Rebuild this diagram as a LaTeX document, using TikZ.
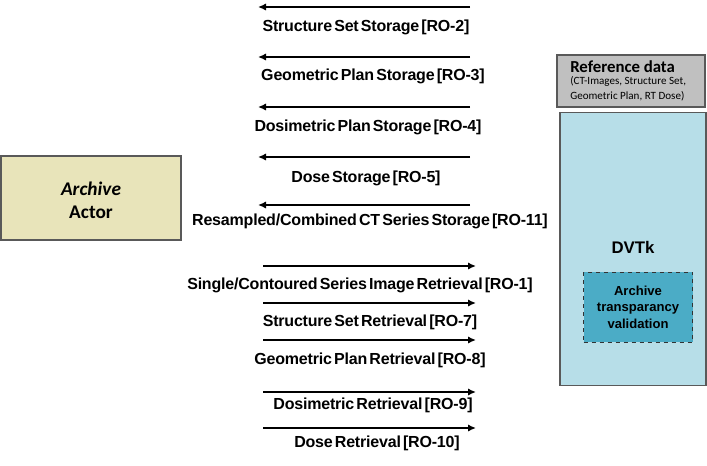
\documentclass[tikz,border=0pt]{standalone}
\usepackage{fontspec}
\setmainfont{Liberation Sans}
\newfontfamily\calib{Carlito}
\newfontfamily\lblfont[LetterSpace=-1.2,WordSpace=0.5]{Liberation Sans}
\usetikzlibrary{arrows.meta}
\definecolor{actorfill}{HTML}{E8E4BA}
\definecolor{reffill}{HTML}{C0C0C0}
\definecolor{dvtkfill}{HTML}{B7DEE8}
\definecolor{innerfill}{HTML}{4BACC6}
\definecolor{edgegray}{HTML}{595959}
\tikzset{
  box/.style={draw=edgegray, line width=0.8pt, inner sep=0pt},
  msg/.style={-{Latex[length=6pt,width=5.5pt]}, line width=2pt, black},
  lbl/.style={font=\lblfont\bfseries\fontsize{12}{14}\selectfont, inner sep=0pt, anchor=center},
}
\begin{document}
\begin{tikzpicture}[x=0.75pt,y=-0.75pt]
\useasboundingbox (0,0) rectangle (707,465);
% boxes
\node[box, fill=actorfill, minimum width=180*0.75pt, minimum height=84*0.75pt] (actor) at (91,198) {};
\node[font=\calib\bfseries\fontsize{14.5}{17}\selectfont, align=center] (actortxt) at (91,200) {\textit{Archive}\\Actor};
\node[box, fill=reffill, minimum width=148*0.75pt, minimum height=52*0.75pt] (ref) at (631,81) {};
\node[font=\calib\bfseries\fontsize{12.6}{14}\selectfont, anchor=west, inner sep=0pt] (reftitle) at (570,67) {Reference data};
\node[font=\calib\fontsize{8.3}{11.5}\selectfont, anchor=west, inner sep=0pt, align=left] (refsub) at (570,89) {(CT-Images, Structure Set,\\Geometric Plan, RT Dose)};
\node[box, fill=dvtkfill, minimum width=146*0.75pt, minimum height=273*0.75pt] (dvtk) at (633,249) {};
\node[font=\bfseries\fontsize{12.6}{15}\selectfont, inner sep=0pt] (dvtktxt) at (633,247) {DVTk};
\node[draw=black!80, dashed, line width=0.7pt, fill=innerfill, minimum width=109*0.75pt, minimum height=70*0.75pt, inner sep=0pt] (inner) at (638,307) {};
\node[font=\bfseries\fontsize{9.8}{12.5}\selectfont, align=center, inner sep=0pt] (innertxt) at (638,307) {Archive\\transparancy\\validation};
% storage arrows (right to left)
\foreach \n/\y in {a/7,b/57,c/107,d/157,e/205}{
  \coordinate (s\n) at (470,\y);
  \coordinate (e\n) at (258,\y);
}
\draw[msg] (sa) -- (ea);
\draw[msg] (sb) -- (eb);
\draw[msg] (sc) -- (ec);
\draw[msg] (sd) -- (ed);
\draw[msg] (se) -- (ee);
\node[lbl] (la) at (366,27) {Structure Set Storage [RO-2]};
\node[lbl] (lb) at (373,76) {Geometric Plan Storage [RO-3]};
\node[lbl] (lc) at (368,127) {Dosimetric Plan Storage [RO-4]};
\node[lbl] (ld) at (366,178) {Dose Storage [RO-5]};
\node[lbl] (le) at (370,221) {Resampled/Combined CT Series Storage [RO-11]};
% retrieval arrows (left to right)
\foreach \n/\y in {f/266,g/303,h/340,i/392,j/428}{
  \coordinate (s\n) at (263,\y);
  \coordinate (e\n) at (476,\y);
}
\draw[msg] (sf) -- (ef);
\draw[msg] (sg) -- (eg);
\draw[msg] (sh) -- (eh);
\draw[msg] (si) -- (ei);
\draw[msg] (sj) -- (ej);
\node[lbl] (lf) at (360,285) {Single/Contoured Series Image Retrieval [RO-1]};
\node[lbl] (lg) at (370,322) {Structure Set Retrieval [RO-7]};
\node[lbl] (lh) at (370,360) {Geometric Plan Retrieval [RO-8]};
\node[lbl] (li) at (373,405) {Dosimetric Retrieval [RO-9]};
\node[lbl] (lj) at (377,443) {Dose Retrieval [RO-10]};
\end{tikzpicture}
\end{document}
